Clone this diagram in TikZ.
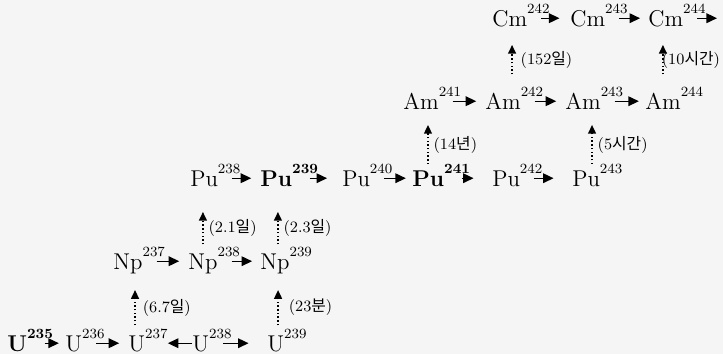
\documentclass[tikz,border=0pt]{standalone}
\usepackage{fontspec}
\newfontfamily\kr{Noto Sans CJK KR}
\usepackage{tikz}
\usetikzlibrary{arrows.meta}
\newcommand{\massno}[1]{\raisebox{7.5pt}{\fontsize{8}{9}\selectfont #1}}

\begin{document}
\begin{tikzpicture}[x=0.02cm,y=-0.02cm,
  nuc/.style={anchor=base west,inner sep=0pt,font=\fontsize{13}{15}\selectfont},
  capt/.style={anchor=west,inner sep=0pt,font=\fontsize{9}{11}\selectfont},
  fwd/.style={line width=0.8pt,-{Triangle[length=6pt,width=5.5pt]}},
  decay/.style={line width=0.85pt,dash pattern=on 0.8pt off 1.3pt,-{Triangle[length=5pt,width=4.5pt]}}]
  \fill[black!4] (0,0) rectangle (723,354);
  \useasboundingbox (0,0) rectangle (723,354);
  \node[nuc] (u235) at (7,352) {\textbf{U}\massno{\bfseries 235}};
  \node[nuc] (u236) at (65,352) {U\massno{236}};
  \node[nuc] (u237) at (128,352) {U\massno{237}};
  \node[nuc] (u238) at (192,352) {U\massno{238}};
  \node[nuc] (u239) at (267,352) {U\massno{239}};
  \node[nuc] (np237) at (113,270) {Np\massno{237}};
  \node[nuc] (np238) at (188,270) {Np\massno{238}};
  \node[nuc] (np239) at (260,270) {Np\massno{239}};
  \node[nuc] (pu238) at (190,187) {Pu\massno{238}};
  \node[nuc] (pu239) at (260,187) {\textbf{Pu}\massno{\bfseries 239}};
  \node[nuc] (pu240) at (342,187) {Pu\massno{240}};
  \node[nuc] (pu241) at (412,187) {\textbf{Pu}\massno{\bfseries 241}};
  \node[nuc] (pu242) at (492,187) {Pu\massno{242}};
  \node[nuc] (pu243) at (572,187) {Pu\massno{243}};
  \node[nuc] (am241) at (403,110) {Am\massno{241}};
  \node[nuc] (am242) at (485,110) {Am\massno{242}};
  \node[nuc] (am243) at (565,110) {Am\massno{243}};
  \node[nuc] (am244) at (645,110) {Am\massno{244}};
  \node[nuc] (cm242) at (492,27) {Cm\massno{242}};
  \node[nuc] (cm243) at (570,27) {Cm\massno{243}};
  \node[nuc] (cm244) at (648,27) {Cm\massno{244}};
  \coordinate (cmend) at (717,27);

  \foreach \a/\b/\g in {u235/u236/3.5, u236/u237/5, u238/u239/10.5, np237/np238/5, np238/np239/4.5,
    pu238/pu239/5, pu239/pu240/8.5, pu240/pu241/3.5, pu241/pu242/10.5, pu242/pu243/10.5,
    am241/am242/5, am242/am243/5, am243/am244/3.5, cm242/cm243/6, cm243/cm244/4.5}
    {\draw[fwd,shorten >=\g pt] ([shift={(-5pt,5pt)}]\a.base east) -- ([yshift=5pt]\b.base west);}
  \draw[fwd] ([shift={(-5pt,5pt)}]cm244.base east) -- ([yshift=5pt]cm244.base east -| cmend);
  \draw[fwd] ([yshift=5pt]u238.base west) -- ([yshift=5pt]u237.base east);

  \draw[decay] ([shift={(4pt,2.2pt)}]u237.north west) -- ([shift={(4pt,-11.4pt)}]u237.north west |- np237.base)
    node[capt,pos=0.5,xshift=4pt] {(6.7{\kr 일})};
  \draw[decay] ([shift={(6.3pt,2.2pt)}]u239.north west) -- ([shift={(6.3pt,-11.4pt)}]u239.north west |- np239.base)
    node[capt,pos=0.5,xshift=5.7pt] {(23{\kr 분})};
  \draw[decay] ([shift={(8.5pt,1.6pt)}]np238.north west) -- ([shift={(8.5pt,-14.2pt)}]np238.north west |- pu238.base)
    node[capt,pos=0.5,xshift=2.8pt] {(2.1{\kr 일})};
  \draw[decay] ([shift={(10.2pt,1.6pt)}]np239.north west) -- ([shift={(10.2pt,-14.2pt)}]np239.north west |- pu239.base)
    node[capt,pos=0.5,xshift=2.8pt] {(2.3{\kr 일})};
  \draw[decay] ([shift={(9.1pt,0pt)}]pu241.north west) -- ([shift={(9.1pt,-8.5pt)}]pu241.north west |- am241.base)
    node[capt,pos=0.5,xshift=2.8pt] {(14{\kr 년})};
  \draw[decay] ([shift={(11.4pt,0pt)}]pu243.north west) -- ([shift={(11.4pt,-8.5pt)}]pu243.north west |- am243.base)
    node[capt,pos=0.5,xshift=2.8pt] {(5{\kr 시간})};
  \draw[decay] ([shift={(15.4pt,7.2pt)}]am242.north west) -- ([shift={(15.4pt,-10.2pt)}]am242.north west |- cm242.base)
    node[capt,pos=0.5,xshift=4.5pt] {(152{\kr 일})};
  \draw[decay] ([shift={(10.2pt,7.2pt)}]am244.north west) -- ([shift={(10.2pt,-10.2pt)}]am244.north west |- cm244.base)
    node[capt,pos=0.5,xshift=-1pt] {(10{\kr 시간})};
\end{tikzpicture}
\end{document}
